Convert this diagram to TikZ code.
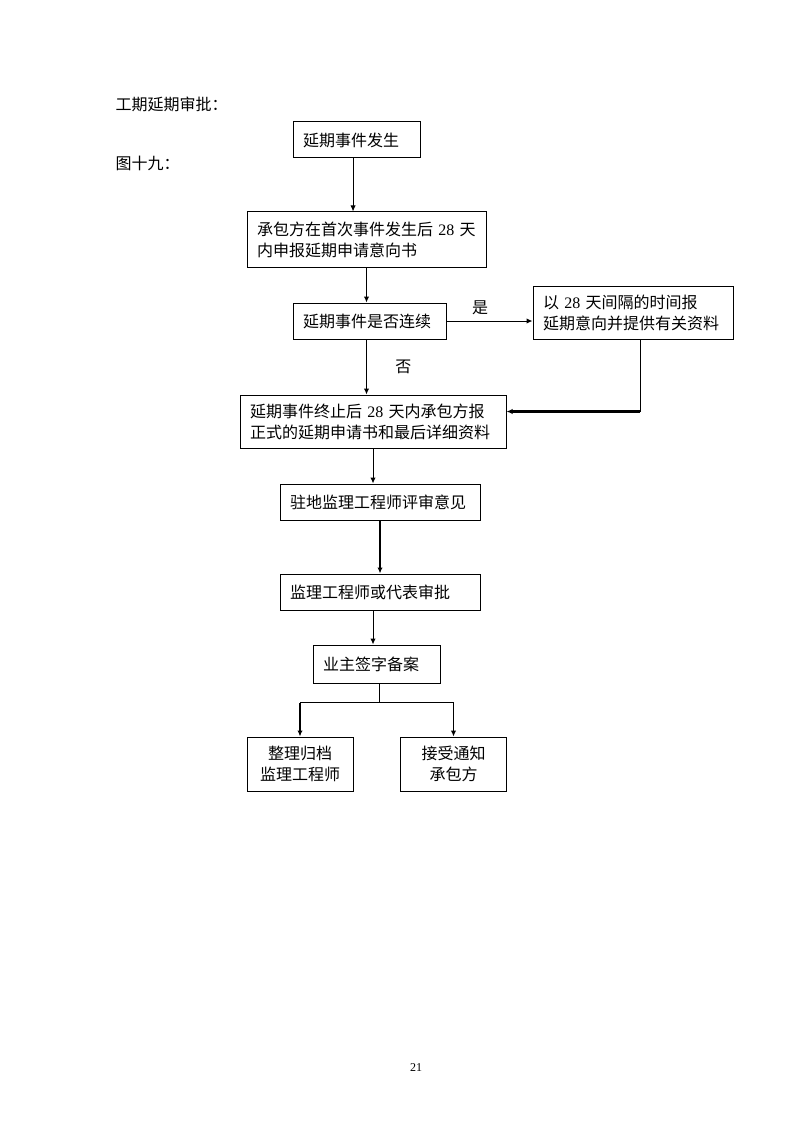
\documentclass[tikz,border=0pt]{standalone}
\usepackage{fontspec}
\setmainfont{Liberation Serif}
\newfontfamily\cjk{Noto Sans CJK SC}
\usetikzlibrary{arrows.meta,calc}
\newcommand\nm[1]{{\rmfamily #1}}

\begin{document}
\begin{tikzpicture}[x=0.75pt,y=-0.75pt,
  stage/.style={draw,line width=0.75pt,align=left,inner xsep=7.5pt,
    font=\cjk\fontsize{12}{15.75}\selectfont},
  endstage/.style={stage,align=center,minimum width=79.5pt,minimum height=40.5pt},
  plain/.style={line width=0.75pt},
  flow/.style={plain,-{Latex[length=4.5pt,width=4pt]}},
  heavy/.style={flow,line width=1.6pt}]
 \useasboundingbox (0,0) rectangle (794,1123);
 %
 \node[anchor=west,font=\cjk\fontsize{12}{15}\selectfont] (title) at (111,104) {工期延期审批：};
 \node[anchor=west,font=\cjk\fontsize{12}{15}\selectfont] (fig) at (111,163) {图十九：};
 %
 \node[stage,text width=80.25pt,minimum height=27pt] (b1) at (356.5,140) {延期事件发生};
 \node[stage,text width=164.25pt,minimum height=41.25pt] (b2) at (366.5,239.5)
   {承包方在首次事件发生后 \nm{28} 天\\内申报延期申请意向书};
 \node[stage,text width=99.75pt,minimum height=27pt] (b3) at (369.5,321) {延期事件是否连续};
 \node[stage,text width=135pt,minimum height=39.75pt] (b4) at (633,312.5)
   {以 \nm{28} 天间隔的时间报\\延期意向并提供有关资料};
 \node[stage,text width=184.5pt,minimum height=39.75pt] (b5) at (373,421.5)
   {延期事件终止后 \nm{28} 天内承包方报\\正式的延期申请书和最后详细资料};
 \node[stage,text width=135pt,minimum height=27pt] (b6) at (380,502) {驻地监理工程师评审意见};
 \node[stage,text width=135pt,minimum height=27pt] (b7) at (380,592) {监理工程师或代表审批};
 \node[stage,text width=80.25pt,minimum height=28.5pt] (b8) at (376.5,664) {业主签字备案};
 \node[endstage] (b9) at (300,764) {整理归档\\监理工程师};
 \node[endstage] (b10) at (453.5,764) {接受通知\\承包方};
 %
 \coordinate (fork) at ($(b8.south)+(2.6pt,19)$);
 \coordinate (bend) at ([xshift=5.25pt,yshift=7.5pt]b4.south |- b5.east);
 %
 \draw[flow] ([xshift=-2.6pt]b1.south) -- ([xshift=-2.6pt]b1.south |- b2.north);
 \draw[flow] (b2.south) -- (b2.south |- b3.north);
 \draw[flow] (b3.east) -- (b3.east -| b4.west)
   node[midway,above=1pt,xshift=-7pt,font=\cjk\fontsize{12}{15}\selectfont] {是};
 \draw[flow] (b2.south |- b3.south) -- (b2.south |- b5.north)
   node[midway,right=18pt,font=\cjk\fontsize{12}{15}\selectfont] {否};
 \draw[plain] ([xshift=5.25pt]b4.south) -- (bend);
 \draw[heavy] (bend) -- ([yshift=7.5pt]b5.east);
 \draw[flow] (b5.south) -- (b5.south |- b6.north);
 \draw[heavy] (b6.south) -- (b7.north);
 \draw[flow] ([xshift=-5.25pt]b7.south) -- ([xshift=-5.25pt]b7.south |- b8.north);
 \draw[plain] ([xshift=2.6pt]b8.south) -- (fork);
 \draw[plain] (fork -| b9.north) -- (fork -| b10.north);
 \draw[heavy] (fork -| b9.north) -- (b9.north);
 \draw[flow] (fork -| b10.north) -- (b10.north);
 %
 \node[font=\fontsize{9}{11}\selectfont] (page) at (416,1068) {21};
\end{tikzpicture}
\end{document}
